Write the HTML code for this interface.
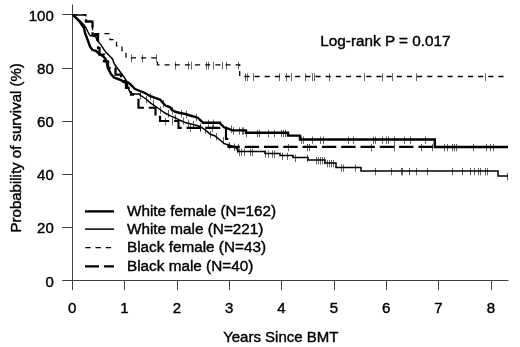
<!DOCTYPE html>
<html lang="en"><head><meta charset="utf-8"><title>Survival by race and sex</title>
<style>html,body{margin:0;padding:0;background:#fff}body{width:520px;height:347px;overflow:hidden}svg{display:block}</style></head>
<body>
<svg width="520" height="347" viewBox="0 0 520 347">
<rect width="520" height="347" fill="#fff"/>
<g stroke="#404040" stroke-width="1" fill="none">
<path d="M72.5,4.5V280.5"/>
<path d="M72.5,280.5H508.5"/>
<path d="M62.2,280.5H72.5M62.2,227.5H72.5M62.2,174.5H72.5M62.2,121.5H72.5M62.2,68.5H72.5M62.2,14.5H72.5M72.5,280.5V290.2M124.5,280.5V290.2M177.5,280.5V290.2M229.5,280.5V290.2M281.5,280.5V290.2M334.5,280.5V290.2M386.5,280.5V290.2M438.5,280.5V290.2M491.5,280.5V290.2"/>
</g>
<g font-family="'Liberation Sans', Arial, sans-serif" font-size="15" fill="#000" stroke="#000" stroke-width="0.4">
<text x="53.8" y="286.5" text-anchor="end">0</text>
<text x="53.8" y="233.4" text-anchor="end">20</text>
<text x="53.8" y="180.3" text-anchor="end">40</text>
<text x="53.8" y="127.1" text-anchor="end">60</text>
<text x="53.8" y="74.0" text-anchor="end">80</text>
<text x="53.8" y="20.9" text-anchor="end">100</text>
<text x="72.2" y="313.3" text-anchor="middle">0</text>
<text x="124.5" y="313.3" text-anchor="middle">1</text>
<text x="176.9" y="313.3" text-anchor="middle">2</text>
<text x="229.2" y="313.3" text-anchor="middle">3</text>
<text x="281.5" y="313.3" text-anchor="middle">4</text>
<text x="333.8" y="313.3" text-anchor="middle">5</text>
<text x="386.2" y="313.3" text-anchor="middle">6</text>
<text x="438.5" y="313.3" text-anchor="middle">7</text>
<text x="490.8" y="313.3" text-anchor="middle">8</text>
<text x="280.8" y="342.2" text-anchor="middle">Years Since BMT</text>
<text x="320.3" y="46.4" font-size="15.3">Log-rank P = 0.017</text>
<text transform="translate(21.3,147.8) rotate(-90)" text-anchor="middle">Probability of survival (%)</text>
<text x="127" y="215.6" font-size="15.3">White female (N=162)</text>
<text x="127" y="233.9" font-size="15.3">White male (N=221)</text>
<text x="127" y="252.1" font-size="15.3">Black female (N=43)</text>
<text x="127" y="270.8" font-size="15.3">Black male (N=40)</text>
</g>
<g stroke="#000" fill="none">
<path d="M85,211.4H114" stroke-width="2.4"/>
<path d="M85,229.1H114" stroke-width="1.5"/>
<path d="M85.3,247.6H114" stroke-width="1.3" stroke-dasharray="5.4 4.8"/>
<path d="M85,266.3H114" stroke-width="2.3" stroke-dasharray="14 5.1"/>
</g>
<clipPath id="pc"><rect x="60" y="14.2" width="460" height="280"/></clipPath>
<g stroke="#000" fill="none" stroke-linejoin="miter" clip-path="url(#pc)">
<path d="M72.5,14.7H86.0V21.2H92.5V33.6H110.0V39.7H116.5V45.8H122.0V52.0H126.0V57.9H157.5V64.9H239.7V76.5H508.5V76.5" stroke-width="1.3" stroke-dasharray="5.1 5.06"/>
<path d="M131.5,54.7V62.5M142.5,54.7V62.5M156.5,54.7V62.5M175.5,61.7V69.5M188.5,61.7V69.5M191.5,61.7V69.5M206.5,61.7V69.5M208.5,61.7V69.5M213.5,61.7V69.5M222.5,61.7V69.5M226.5,61.7V69.5M238.5,61.7V69.5M245.5,73.3V81.1M247.5,73.3V81.1M253.5,73.3V81.1M279.5,73.3V81.1M286.5,73.3V81.1M291.5,73.3V81.1M305.5,73.3V81.1M312.5,73.3V81.1M314.5,73.3V81.1M329.5,73.3V81.1M364.5,73.3V81.1M382.5,73.3V81.1M392.5,73.3V81.1M416.5,73.3V81.1M485.5,73.3V81.1" stroke-width="1" stroke-opacity="0.6"/>
<path d="M72.5,14.7L75.0,16.0L78.0,19.0L81.0,22.0L84.0,25.0L86.0,28.0L88.0,32.0L90.0,35.5L93.0,36.0L95.9,36.7L96.9,40.2L100.0,43.6L102.0,46.4L104.2,49.9L106.2,52.6L109.7,56.0L112.5,58.9L113.5,62.0L115.0,65.0L118.0,69.0L121.0,73.0L124.0,77.0L126.0,80.0L127.0,83.0L128.0,88.0L130.0,92.0L132.0,94.0H140.0V95.0L143.0,97.0L146.0,99.0L150.0,102.6L155.0,106.0L160.0,109.5L165.0,113.0L170.0,115.6L175.0,117.7L180.0,120.3L185.0,122.5L190.0,123.8L195.0,125.0L200.0,126.5L205.0,129.6L210.0,134.0L215.0,136.0L220.0,140.0L224.0,143.4L228.0,145.0L234.0,146.5L237.0,149.0L238.0,151.6H265.0V153.4H280.0V155.6H293.0V157.6H308.0V160.0H325.0V163.0H336.0V167.4H361.0V171.0H498.0V176.0H508.0V176.0" stroke-width="1.5"/>
<path d="M223.5,137.0V144.4M229.5,142.0V149.4M234.5,143.5V150.9M237.5,146.0V153.4M239.5,148.6V156.0M241.5,148.6V156.0M244.5,148.6V156.0M250.5,148.6V156.0M252.5,148.6V156.0M265.5,150.4V157.8M268.5,150.4V157.8M272.5,150.4V157.8M274.5,150.4V157.8M282.5,152.6V160.0M287.5,152.6V160.0M295.5,154.6V162.0M307.5,154.6V162.0M316.5,157.0V164.4M318.5,157.0V164.4M320.5,157.0V164.4M322.5,157.0V164.4M324.5,157.0V164.4M327.5,160.0V167.4M329.5,160.0V167.4M331.5,160.0V167.4M333.5,160.0V167.4M341.5,164.4V171.8M343.5,164.4V171.8M355.5,164.4V171.8M375.5,168.0V175.4M391.5,168.0V175.4M401.5,168.0V175.4M402.5,168.0V175.4M409.5,168.0V175.4M416.5,168.0V175.4M427.5,168.0V175.4M452.5,168.0V175.4M462.5,168.0V175.4M470.5,168.0V175.4M474.5,168.0V175.4M478.5,168.0V175.4M480.5,168.0V175.4M485.5,168.0V175.4M487.5,168.0V175.4M507.5,173.0V180.4M140.5,92.0V99.4M146.5,96.0V103.4M153.5,99.6V107.0M160.5,106.5V113.9M168.5,110.0V117.4M175.5,114.7V122.1M183.5,117.3V124.7M188.5,119.5V126.9M193.5,120.8V128.2M200.5,123.5V130.9M205.5,126.6V134.0M210.5,131.0V138.4M216.5,133.0V140.4" stroke-width="1" stroke-opacity="0.6"/>
<path d="M72.5,14.7H86.0V21.6H92.5V34.9H98.0V48.1H99.5V54.7H104.0V61.4H108.0V68.0H115.5V74.6H121.0V81.2H126.0V87.9H131.0V94.5H134.0V94.5" stroke-width="2.3" stroke-dasharray="15 4.5" stroke-dashoffset="1.5"/>
<path d="M138.5,98.7H138.5V107.7H155.5V114.4H160.0V121.0H178.5V127.8H226.0V139.0H228.5V146.9H433.5V146.9" stroke-width="2.15" stroke-dasharray="14.4 4.9"/>
<path d="M238.5,143.9V151.3M288.5,143.9V151.3M307.5,143.9V151.3M309.5,143.9V151.3M371.5,143.9V151.3M394.5,143.9V151.3M421.5,143.9V151.3M432.5,143.9V151.3M165.5,118.0V125.4M172.5,118.0V125.4M190.5,124.8V132.2M200.5,124.8V132.2M212.5,124.8V132.2" stroke-width="1" stroke-opacity="0.6"/>
<path d="M72.5,14.7L75.0,17.0L78.0,20.0L80.0,22.0L82.0,25.0L84.0,28.0L85.0,33.0L86.2,36.0L88.2,41.5L90.0,46.4L92.4,49.9L95.9,50.9L97.9,52.6L100.0,54.4L102.8,56.0L105.5,58.9L106.5,62.0L108.0,68.0L111.0,74.0L114.0,77.6L118.0,79.0L121.0,80.0L124.0,82.0L128.0,82.5L130.0,84.0L135.0,89.0L140.0,91.0L145.0,93.0L150.0,96.0L155.0,97.8L160.0,99.5L163.0,103.0L166.0,106.0L170.0,107.0L172.0,110.0L176.0,112.0L180.0,113.0L185.0,113.8L190.0,115.5L195.0,116.8L198.0,118.0L203.0,122.7H220.0V123.3L224.0,127.3L228.0,128.5L232.0,130.4H246.0V132.8H288.0V135.6H300.0V139.5H434.8V147.0H508.0V147.0" stroke-width="2.4"/>
<path d="M231.5,125.5V132.9M233.5,127.4V134.8M239.5,127.4V134.8M242.5,127.4V134.8M243.5,127.4V134.8M246.5,129.8V137.2M257.5,129.8V137.2M259.5,129.8V137.2M268.5,129.8V137.2M274.5,129.8V137.2M281.5,129.8V137.2M283.5,129.8V137.2M285.5,129.8V137.2M301.5,136.5V143.9M303.5,136.5V143.9M312.5,136.5V143.9M320.5,136.5V143.9M323.5,136.5V143.9M348.5,136.5V143.9M353.5,136.5V143.9M373.5,136.5V143.9M375.5,136.5V143.9M382.5,136.5V143.9M386.5,136.5V143.9M388.5,136.5V143.9M394.5,136.5V143.9M404.5,136.5V143.9M410.5,136.5V143.9M425.5,136.5V143.9M444.5,144.0V151.4M447.5,144.0V151.4M452.5,144.0V151.4M454.5,144.0V151.4M456.5,144.0V151.4M473.5,144.0V151.4M486.5,144.0V151.4M490.5,144.0V151.4M493.5,144.0V151.4M150.5,93.0V100.4M163.5,100.0V107.4M172.5,107.0V114.4M181.5,110.0V117.4M186.5,110.8V118.2M196.5,113.8V121.2M208.5,119.7V127.1M213.5,119.7V127.1" stroke-width="1" stroke-opacity="0.6"/>
</g>
</svg>
</body></html>
